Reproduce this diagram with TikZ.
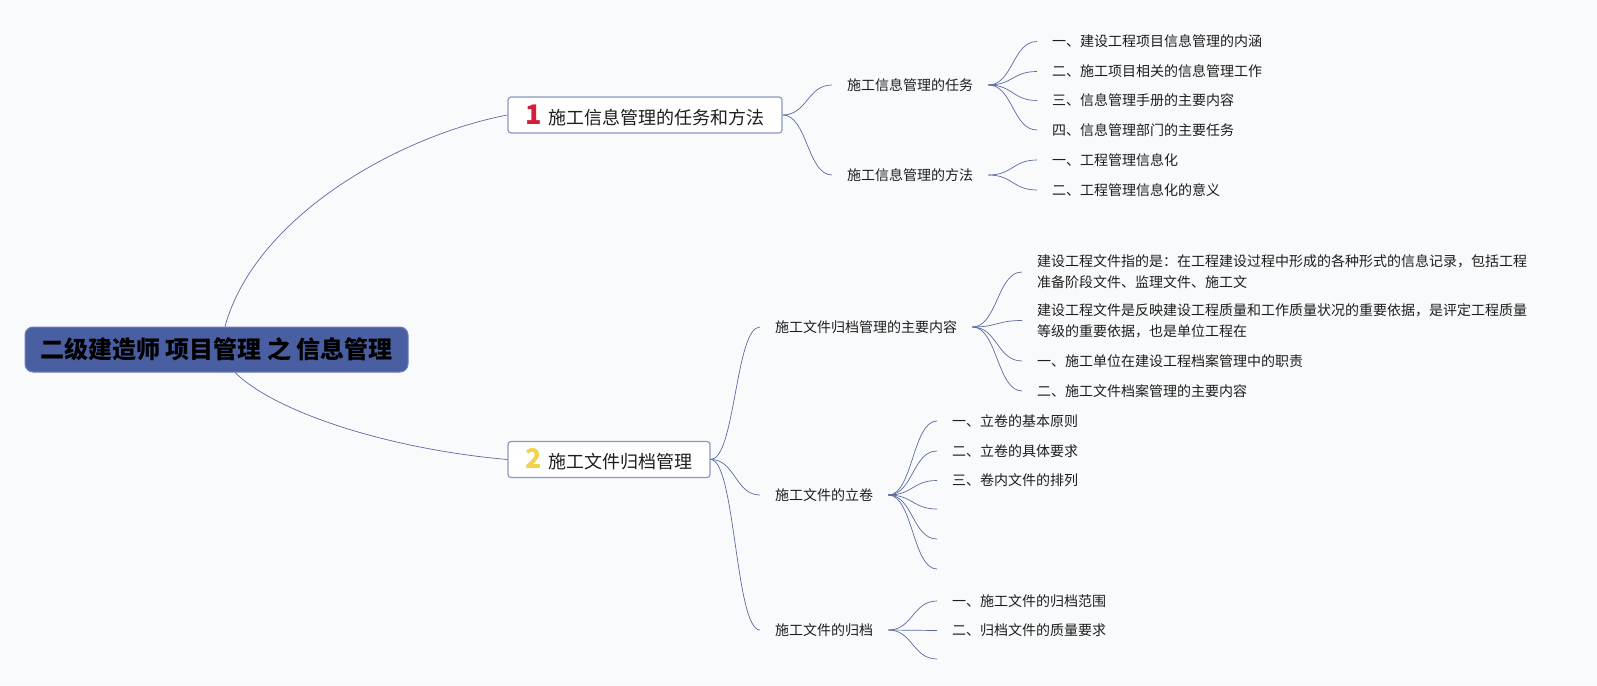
\documentclass[tikz,border=0pt]{standalone}
\usepackage{fontspec}
\setmainfont{Noto Sans CJK SC}
\usetikzlibrary{calc}
\definecolor{bgc}{HTML}{F9FAFC}
\definecolor{conncol}{HTML}{5B6BA0}
\definecolor{rootfill}{HTML}{4A5EA2}
\definecolor{rootdraw}{HTML}{6C7EBA}
\definecolor{boxdraw}{HTML}{8D99C4}
\definecolor{numred}{HTML}{D2203C}
\definecolor{numyellow}{HTML}{F2D24A}
\definecolor{txt}{HTML}{1E1E1E}
\newcommand\numtag[2]{{\color{#1}\fontsize{27}{27}\selectfont\bfseries #2}\hspace{7pt}}
\newcommand\branch[2]{\draw[conn] let \p1=(#1), \p2=(#2), \n1={0.5*(\x2-\x1)} in (\p1) .. controls +(\n1,0) and +(-\n1,0) .. (\p2);}
\tikzset{
  conn/.style={draw=conncol, line width=0.7pt},
  rootbox/.style={fill=rootfill, draw=rootdraw, line width=1pt, rounded corners=8pt,
    minimum width=383pt, minimum height=45pt, inner sep=0pt,
    font=\fontsize{24}{28}\selectfont\bfseries, text=black},
  mainbox/.style={fill=white, draw=boxdraw, line width=1.2pt, rounded corners=3pt,
    minimum height=36pt, inner sep=0pt, font=\fontsize{18}{22}\selectfont, text=txt},
  sub/.style={anchor=west, inner xsep=15pt, inner ysep=2pt,
    font=\fontsize{14}{21}\selectfont, text=txt, align=left},
}
\begin{document}
\begin{tikzpicture}[x=1pt, y=-1pt]
\fill[bgc] (0,0) rectangle (1597,685);
\useasboundingbox (0,0) rectangle (1597,685);

% root and main topics
\node[rootbox] (root) at (216.5,349.5) {二级建造师 项目管理 之 信息管理};
\node[mainbox, minimum width=274pt] (n1) at (645,115) {\numtag{numred}{1}施工信息管理的任务和方法};
\node[mainbox, minimum width=202pt] (n2) at (609,459.5) {\numtag{numyellow}{2}施工文件归档管理};

\draw[conn] ($(root.north)+(8.5,0)$) .. controls (255,217) and (398,136) .. (n1.west);
\draw[conn] ($(root.south)+(18.5,0)$) .. controls (275,412) and (388,449) .. (n2.west);

% level 2
\node[sub] (a1) at (832,85) {施工信息管理的任务};
\node[sub] (a2) at (832,175) {施工信息管理的方法};
\node[sub] (b1) at (760,327) {施工文件归档管理的主要内容};
\node[sub] (b2) at (760,495) {施工文件的立卷};
\node[sub] (b3) at (760,630) {施工文件的归档};

\branch{n1.east}{a1.west}
\branch{n1.east}{a2.west}
\branch{n2.east}{b1.west}
\branch{n2.east}{b2.west}
\branch{n2.east}{b3.west}

% level 3 under a1, a2
\node[sub] (a11) at (1037,41.5) {一、建设工程项目信息管理的内涵};
\node[sub] (a12) at (1037,71.5) {二、施工项目相关的信息管理工作};
\node[sub] (a13) at (1037,100.5) {三、信息管理手册的主要内容};
\node[sub] (a14) at (1037,130) {四、信息管理部门的主要任务};
\node[sub] (a21) at (1037,160) {一、工程管理信息化};
\node[sub] (a22) at (1037,190) {二、工程管理信息化的意义};
\foreach \c in {a11,a12,a13,a14} {\branch{a1.east}{\c.west}}
\foreach \c in {a21,a22} {\branch{a2.east}{\c.west}}

% level 3 under b1
\node[sub] (b11) at (1022,272) {建设工程文件指的是：在工程建设过程中形成的各种形式的信息记录，包括工程\\准备阶段文件、监理文件、施工文};
\node[sub] (b12) at (1022,320.5) {建设工程文件是反映建设工程质量和工作质量状况的重要依据，是评定工程质量\\等级的重要依据，也是单位工程在};
\node[sub] (b13) at (1022,361) {一、施工单位在建设工程档案管理中的职责};
\node[sub] (b14) at (1022,391) {二、施工文件档案管理的主要内容};
\foreach \c in {b11,b12,b13,b14} {\branch{b1.east}{\c.west}}

% level 3 under b2
\node[sub] (b21) at (937,421) {一、立卷的基本原则};
\node[sub] (b22) at (937,451) {二、立卷的具体要求};
\node[sub] (b23) at (937,480.5) {三、卷内文件的排列};
\coordinate (b24) at (937,509);
\coordinate (b25) at (937,539);
\coordinate (b26) at (937,569);
\foreach \c in {b21,b22,b23} {\branch{b2.east}{\c.west}}
\foreach \c in {b24,b25,b26} {\branch{b2.east}{\c}}

% level 3 under b3
\node[sub] (b31) at (937,601) {一、施工文件的归档范围};
\node[sub] (b32) at (937,630.5) {二、归档文件的质量要求};
\coordinate (b33) at (937,659);
\foreach \c in {b31,b32} {\branch{b3.east}{\c.west}}
\branch{b3.east}{b33}
\end{tikzpicture}
\end{document}
